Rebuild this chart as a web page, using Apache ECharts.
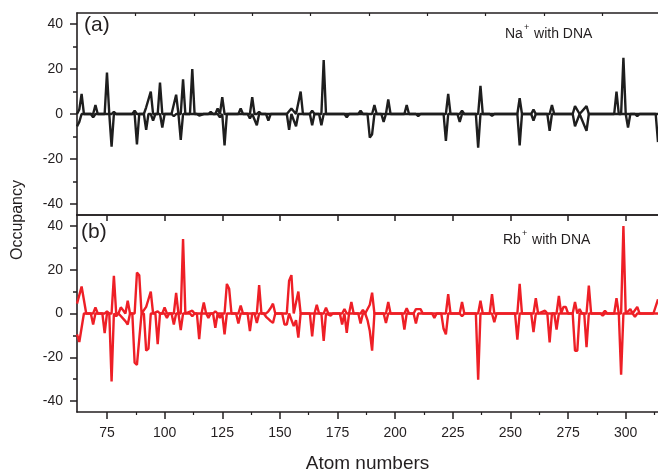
<!DOCTYPE html>
<html>
<head>
<meta charset="utf-8">
<script src="https://cdn.jsdelivr.net/npm/echarts@6/dist/echarts.min.js"></script>
<style>
html,body{margin:0;padding:0;background:#fff;}
#c{width:658px;height:474px;}
</style>
</head>
<body>
<div id="c"></div>
<script>
// ---- data ----
const xMajorTicks = [75,100,125,150,175,200,225,250,275,300];
const xMinorTicks = [87.5,112.5,137.5,162.5,187.5,212.5,237.5,262.5,287.5,312.5];
const topTicksA = [87.4,112.7,138,163.3,188.6,213.9,239.2,264.5,289.8];
const yMajorTicks = [-40,-20,0,20,40];
const yMinorTicks = [-30,-10,10,30];

// Panel (a): Na+ with DNA
const naUp = [[62,0],[63,2],[64,9],[65,0],[69,0],[70,4],[71,0],[74,0],[75,18.5],[76,0],[77,0],[78,1],[79,0],
 [86,0],[87,1.5],[88,0],[91,0],[92,3],[94,10],[95,0],[97,0],[98,14],[99,0],[103,0],[105,8.6],[106,0],
 [107,0],[108,15.5],[109,0],[111,0],[112,20],[113,0],[119,0],[120,1],[121,0],[122,0],[123,2.5],[124,0],
 [125,7.5],[126,0],[132,0],[133,2.5],[134,0],[137,0],[138,7.5],[139,0],[140,0],[141,1],[142,0],
 [153,0],[155,2.5],[157,0],[159,10],[160,0],[163,0],[164,1.5],[165,0],[168,0],[169,24],[170,0],
 [184,0],[185,1.5],[186,0],[190,0],[191,4],[192,0],[196,0],[197,6.5],[198,0],[204,0],[205,4],[206,0],
 [222,0],[223,9],[224,0],[228,0],[229,1.5],[230,0],[236,0],[237,12.5],[238,0],[253,0],[254,7],[255,0],
 [259,0],[260,2],[261,0],[267,0],[268,4],[269,0],[277,0],[278,3.5],[280,0],[283,3.5],[284,0],
 [295,0],[296,10],[297,0],[298,0],[299,25],[300,0],[314,0]];
const naDown = [[62,-5.5],[63,-3.5],[64,0],[68,0],[69,-1.5],[70,0],[76,0],[77,-14.5],[78,0],[87,0],[88,-13.5],[89,0],
 [91,0],[92,-7],[93,0],[94,0],[95,-3],[96,0],[98,0],[99,-6],[100,0],[103,0],[104,-1],[105,0],[106,0],[107,-11.5],[108,0],
 [114,0],[115,-0.7],[117,0],[123,0],[124,-1.5],[125,0],[126,-14],[127,0],[136,0],[137,-2],[138,0],[140,-5],[141,0],
 [144,0],[145,-3],[146,0],[153,0],[154,-7],[155,0],[157,-5.5],[158,0],[163,0],[164,-5],[165,0],[167,0],[168,-5],[169,0],
 [178,0],[179,-1.5],[180,0],[188,0],[189,-10.5],[190,-9],[191,0],[194,0],[195,-3.5],[196,0],[209,0],[210,-1],[211,0],
 [221,0],[222,-12],[223,0],[227,0],[228,-3.5],[229,0],[235,0],[236,-15],[237,0],[241,0],[242,-0.8],[243,0],
 [253,0],[254,-14],[255,0],[259,0],[260,-3],[261,0],[266,0],[267,-7.5],[268,0],[277,0],[278,-5.5],[280,0],
 [283,-7.5],[284,0],[300,0],[301,-6],[302,0],[304,0],[305,-1],[306,0],[313,0],[314,-12.5]];

// Panel (b): Rb+ with DNA
const rbUp = [[62,4.5],[64,12.3],[66,0],[69,0],[70,2.8],[71,0],[74,0],[75,1],[76,0],[77,0],[78,17.2],[79,0],
 [80,0],[81,2.8],[82,1.5],[83,0],[84,5.8],[85,0],[87,0],[88,18.7],[89,17.5],[90,0],[92,3],[93,6.5],[94,10],[95,0],
 [97,1],[98,0],[99,0],[100,2.8],[101,0],[104,0],[105,9.4],[106,0],[107,0],[108,34],[109,0],[112,1.3],[113,0],
 [116,0],[117,5],[118,0],[121,0],[122,1],[123,0],[126,0],[127,13.5],[128,11.3],[129,0],[132,0],[133,3.6],[134,0],
 [140,0],[141,13],[142,0],[144,0],[145,1],[146,2.5],[147,4.5],[148,0],[153,0],[154,15],[155,17.5],[156,0],
 [158,10],[159,0],[165,0],[166,4],[167,0],[169,0],[170,2.7],[171,0],[177,0],[178,2],[179,0],[180,0],[181,5.3],[182,0],
 [185,0],[186,1.6],[187,0],[189,4],[190,9.5],[191,0],[196,0],[197,5.3],[198,0],[204,0],[205,2.4],[206,0],
 [208,0],[209,2],[210,2],[211,2],[212,0],[222,0],[223,8.8],[224,0],[228,0],[229,5.3],[230,0],[236,0],[237,5.8],[238,0],
 [241,0],[242,8.8],[243,0],[253,0],[254,13.5],[255,0],[260,0],[261,7],[262,0],[265,1.3],[266,0],[270,0],[271,8],[272,0],
 [273,3],[274,3],[275,0],[277,0],[278,5.3],[279,0],[280,2],[281,0],[283,0],[284,12.8],[285,0],[290,0],[291,1.3],[292,0],
 [295,0],[296,7],[297,0],[298,0],[299,40],[300,0],[302,2],[303,0],[305,3],[306,0],[312,0],[314,6.5]];
const rbDown = [[62,-9.5],[63,-13],[65,0],[68,0],[69,-5],[70,0],[73,0],[74,-9],[75,0],[76,0],[77,-31],[78,0],[79,-1.3],[80,0],
 [83,-3.5],[84,-5],[85,0],[86,0],[87,-22.5],[88,-23.5],[90,0],[91,0],[92,-17],[93,-16],[94,0],[96,0],[97,-14],[98,0],
 [100,0],[101,-2],[102,0],[103,0],[104,-5],[105,0],[106,0],[107,-7.6],[108,0],[111,0],[112,-1.3],[113,0],[114,0],[115,-11.7],[116,0],
 [118,0],[119,-2],[120,0],[121,0],[122,-6.5],[123,0],[124,-2],[125,0],[126,-9.5],[127,0],[131,0],[132,-4.6],[133,0],
 [136,0],[137,-8],[138,0],[139,0],[140,-4.3],[141,0],[143,0],[144,-1.5],[145,-2.5],[146,-3.5],[147,-4.3],[148,0],
 [151,0],[152,-5],[153,-5],[154,0],[156,-5.8],[157,-3],[158,-11],[159,0],[163,0],[164,-10.5],[165,0],[168,0],[169,-12.5],[170,0],
 [172,-1],[173,0],[176,0],[177,-5],[178,0],[179,-8.8],[180,0],[184,0],[185,-4.6],[186,0],[187,0],[188,-3],[189,-8],[190,-17],[191,0],
 [195,0],[196,-4.3],[197,0],[203,0],[204,-7.3],[205,0],[208,0],[209,-4.6],[210,0],[216,0],[217,-2],[218,0],
 [220,0],[221,-7],[222,-9.5],[223,0],[228,0],[229,-1.3],[230,0],[235,0],[236,-30.3],[237,0],[242,0],[243,-4],[244,0],
 [252,0],[253,-12],[254,0],[259,0],[260,-8.5],[261,0],[266,0],[267,-13.2],[268,0],[269,0],[270,-7.3],[271,0],
 [277,0],[278,-17],[279,-17],[280,0],[282,0],[283,-15.4],[284,0],[289,0],[290,-1],[291,0],[297,0],[298,-28],[299,0],
 [303,0],[304,-1.5],[305,0],[314,0]];

// ---- chart ----
const AX = '#231f20';
const FONT = 'Liberation Sans, Arial, sans-serif';
const XMIN = 62, XMAX = 314, YMIN = -45, YMAX = 45;

function xAx(grid, pos, opts) {
  return Object.assign({
    type: 'value', gridIndex: grid, position: pos, min: XMIN, max: XMAX,
    axisLine: {show: true, onZero: false, lineStyle: {color: AX, width: 1.6}},
    axisTick: {show: false},
    axisLabel: {show: false},
    splitLine: {show: false}
  }, opts);
}
function yAx(grid, opts) {
  return Object.assign({
    type: 'value', gridIndex: grid, position: 'left', min: YMIN, max: YMAX,
    axisLine: {show: true, onZero: false, lineStyle: {color: AX, width: 1.6}},
    axisTick: {show: true, inside: false, length: 7, customValues: yMajorTicks, lineStyle: {color: AX, width: 1.5}},
    axisLabel: {show: true, customValues: yMajorTicks, margin: 14, color: AX, fontSize: 14, fontFamily: FONT},
    splitLine: {show: false}
  }, opts);
}
function yMinorAx(grid) {
  return {
    type: 'value', gridIndex: grid, position: 'left', min: YMIN, max: YMAX,
    axisLine: {show: false, onZero: false},
    axisTick: {show: true, inside: false, length: 4, customValues: yMinorTicks, lineStyle: {color: AX, width: 1.5}},
    axisLabel: {show: false}, splitLine: {show: false}
  };
}
function line(data, xi, yi, color) {
  return {
    type: 'line', data: data, xAxisIndex: xi, yAxisIndex: yi,
    showSymbol: false, symbol: 'none', smooth: false, animation: false,
    lineStyle: {color: color, width: 2.4}, z: 3
  };
}

const chart = echarts.init(document.getElementById('c'), null, {renderer: 'canvas'});
const BLACK = '#1e1e1e', RED = '#ee1f26';

const RICH = {
  m: {fontSize: 14, lineHeight: 18, fill: AX, fontFamily: FONT, verticalAlign: 'bottom'},
  s: {fontSize: 9, lineHeight: 18, fill: AX, fontFamily: FONT, verticalAlign: 'top', padding: [0, 1, 0, 1]}
};

chart.setOption({
  animation: false,
  backgroundColor: '#fff',
  grid: [
    {left: 77, top: 13, width: 581, height: 202, containLabel: false},
    {left: 77, top: 215, width: 581, height: 202, containLabel: false}
  ],
  xAxis: [
    xAx(0, 'bottom', {axisTick: {show: true, inside: false, length: 6, customValues: xMajorTicks, lineStyle: {color: AX, width: 1.5}}}),
    xAx(0, 'top', {axisTick: {show: true, inside: true, length: 3, customValues: topTicksA, lineStyle: {color: AX, width: 1.2}}}),
    xAx(1, 'top', {}),
    xAx(1, 'bottom', {
      axisTick: {show: true, inside: false, length: 7, customValues: xMajorTicks, lineStyle: {color: AX, width: 1.5}},
      axisLabel: {show: true, customValues: xMajorTicks, margin: 14, color: AX, fontSize: 14, fontFamily: FONT},
      name: 'Atom numbers', nameLocation: 'middle', nameGap: 42,
      nameTextStyle: {fontSize: 19, color: AX, fontFamily: FONT}
    }),
    xAx(1, 'bottom', {axisLine: {show: false, onZero: false},
      axisTick: {show: true, inside: false, length: 3, customValues: xMinorTicks, lineStyle: {color: AX, width: 1.2}}})
  ],
  yAxis: [yAx(0, {}), yMinorAx(0), yAx(1, {}), yMinorAx(1)],
  series: [
    line(naUp, 0, 0, BLACK),
    line(naDown, 0, 0, BLACK),
    line(rbUp, 3, 2, RED),
    line(rbDown, 3, 2, RED)
  ],
  graphic: [
    {type: 'text', left: 84, top: 15, style: {text: '(a)', fontSize: 21, fill: AX, fontFamily: FONT}},
    {type: 'text', left: 81, top: 222, style: {text: '(b)', fontSize: 21, fill: AX, fontFamily: FONT}},
    {type: 'text', left: 505, top: 23, style: {text: '{m|Na}{s|+}{m| with DNA}', fill: AX, fontFamily: FONT, rich: RICH}},
    {type: 'text', left: 503, top: 229, style: {text: '{m|Rb}{s|+}{m| with DNA}', fill: AX, fontFamily: FONT, rich: RICH}},
    {type: 'text', x: 18, y: 220, rotation: Math.PI / 2,
      style: {text: 'Occupancy', fontSize: 16, fill: AX, fontFamily: FONT, align: 'center', verticalAlign: 'middle'}}
  ]
});
</script>
</body>
</html>
